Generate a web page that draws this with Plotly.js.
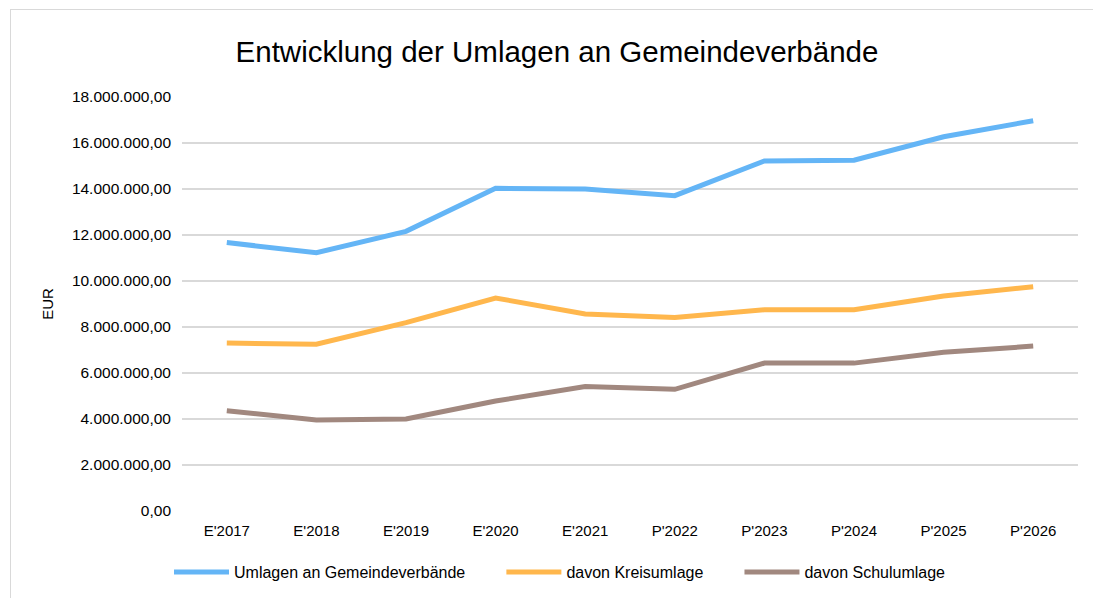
<!DOCTYPE html>
<html>
<head>
<meta charset="utf-8">
<script src="https://cdn.plot.ly/plotly-3.0.1.min.js"></script>
<style>
  html, body { margin: 0; padding: 0; background: #fff; overflow: hidden; }
  #chart { position: absolute; left: 0; top: 0; width: 1093px; height: 598px; }
  #frame { position: absolute; left: 10px; top: 9px; width: 1100px; height: 600px;
           border: 1px solid #d9d9d9; pointer-events: none; }
</style>
</head>
<body>
<div id="chart"></div>
<div id="frame"></div>
<script>
const categories = ["E'2017", "E'2018", "E'2019", "E'2020", "E'2021", "P'2022", "P'2023", "P'2024", "P'2025", "P'2026"];
const umlagen = [11670000, 11230000, 12160000, 14030000, 14000000, 13710000, 15220000, 15250000, 16270000, 16970000];
const kreisumlage = [7300000, 7250000, 8190000, 9260000, 8570000, 8410000, 8750000, 8750000, 9350000, 9750000];
const schulumlage = [4360000, 3960000, 4000000, 4780000, 5410000, 5290000, 6430000, 6430000, 6900000, 7170000];
const seriesNames = ["Umlagen an Gemeindeverbände", "davon Kreisumlage", "davon Schulumlage"];
const seriesColors = ["#64B5F6", "#FFB74D", "#A1887F"];
const yTicks = [0, 2000000, 4000000, 6000000, 8000000, 10000000, 12000000, 14000000, 16000000, 18000000];

const pad = '\u00A0'.repeat(7);
const allValues = [umlagen, kreisumlage, schulumlage];
const traces = allValues.map((vals, i) => ({
  type: 'scatter',
  mode: 'lines',
  x: categories,
  y: vals,
  name: seriesNames[i] + (i < allValues.length - 1 ? pad : ''),
  line: { color: seriesColors[i], width: 5, shape: 'linear' },
  hoverinfo: 'x+y+name'
}));

const layout = {
  width: 1093,
  height: 598,
  paper_bgcolor: '#ffffff',
  plot_bgcolor: '#ffffff',
  separators: ',.',
  font: { family: 'Arial, "Liberation Sans", sans-serif', color: '#404040', size: 15 },
  margin: { l: 182, r: 15, t: 97, b: 87, autoexpand: false },
  title: {
    text: 'Entwicklung der Umlagen an Gemeindeverbände',
    font: { family: 'Arial, "Liberation Sans", sans-serif', size: 29.5, color: '#000000' },
    x: 557 / 1093, xanchor: 'center', xref: 'container',
    y: 1 - 52 / 598, yanchor: 'middle'
  },
  xaxis: {
    type: 'category',
    range: [-0.5, categories.length - 0.5],
    tickfont: { size: 15, color: '#000000' },
    tickangle: 0,
    showgrid: false,
    showline: false,
    zeroline: false,
    ticks: '',
    ticklabelstandoff: 9,
    fixedrange: true
  },
  yaxis: {
    range: [0, 18000000],
    tickvals: yTicks,
    tickformat: ',.2f',
    tickfont: { size: 15.5, color: '#000000' },
    showgrid: true,
    gridcolor: '#d9d9d9',
    gridwidth: 1.5,
    zeroline: false,
    showline: false,
    ticks: '',
    ticklabelstandoff: 10,
    title: { text: 'EUR', font: { size: 15, color: '#000000' }, standoff: 14 },
    fixedrange: true
  },
  showlegend: true,
  legend: {
    orientation: 'h',
    x: (560 - 182) / 896, xanchor: 'center',
    y: (511 - 572) / 414, yanchor: 'middle',
    font: { size: 16, color: '#000000' },
    itemwidth: 55,
    traceorder: 'normal'
  }
};

Plotly.newPlot('chart', traces, layout, { displayModeBar: false, staticPlot: true });
</script>
</body>
</html>
